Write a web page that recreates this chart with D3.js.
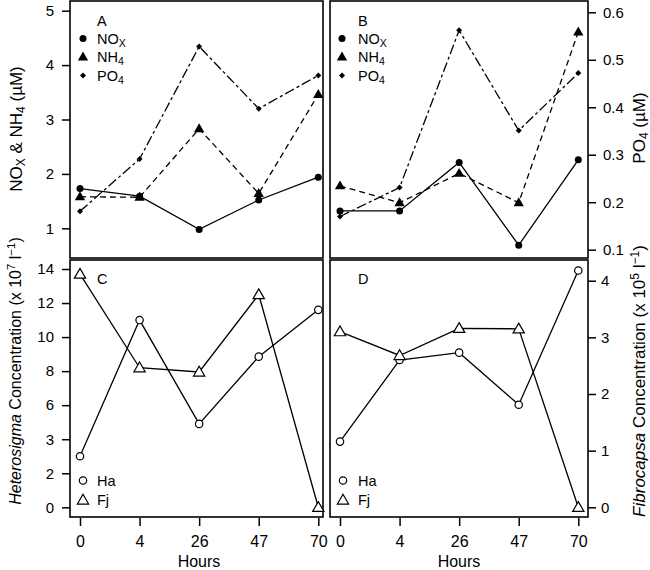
<!DOCTYPE html>
<html><head><meta charset="utf-8">
<script src="https://cdn.jsdelivr.net/npm/d3@7"></script>
<style>
body{margin:0;background:#fff;}
svg{font-family:"Liberation Sans",Arial,sans-serif;}
text{fill:#000;}
</style></head><body>
<svg id="c" width="650" height="570"></svg>
<script>
// ---- data ----
const hours = ["0","4","26","47","70"];
const noxA = [1.73,1.59,0.98,1.52,1.94];
const nh4A = [1.58,1.57,2.83,1.64,3.46];
const po4A = [0.181,0.291,0.528,0.397,0.467];
const noxB = [1.32,1.32,2.21,0.69,2.26];
const nh4B = [1.78,1.47,2.01,1.47,4.61];
const po4B = [0.170,0.231,0.562,0.351,0.472];
const haC = [3.0,11.0,4.9,8.85,11.6];
const fjC = [13.7,8.2,7.95,12.5,0];
const haD = [1.16,2.6,2.73,1.81,4.18];
const fjD = [3.1,2.68,3.16,3.15,0];
const nutTicks = [1,2,3,4,5];
const po4Ticks = [0.1,0.2,0.3,0.4,0.5,0.6];
const hetTicks = [0,2,4,6,8,10,12,14];
const hetTickLabels = ["0","2","3","6","8","10","12","14"];
const fibTicks = [0,1,2,3,4];

const svg = d3.select("#c");
const P = {
  A:{x0:70,x1:323,y0:1,y1:258},
  B:{x0:330,x1:588,y0:1,y1:258},
  C:{x0:70,x1:323,y0:260,y1:517},
  D:{x0:330,x1:588,y0:260,y1:517}
};
const xL = d3.scalePoint().domain(hours).range([80,318.3]);
const xR = d3.scalePoint().domain(hours).range([340,578.3]);
const yNut = d3.scaleLinear().domain([1,5]).range([228.3,10.7]);
const yPO4 = d3.scaleLinear().domain([0.1,0.6]).range([249.7,12.3]);
const yHet = d3.scaleLinear().domain([0,14]).range([507.3,269]);
const yFib = d3.scaleLinear().domain([0,4]).range([507.3,280.7]);

function styleAxis(size){
  return g=>{
    g.selectAll("path.domain").remove();
    g.selectAll(".tick line").attr("stroke","#000").attr("stroke-width",1.5);
    g.selectAll(".tick text").attr("font-size",size).attr("font-family","Liberation Sans, Arial, sans-serif").attr("fill","#000");
  };
}
// axes
svg.append("g").attr("transform","translate(70,0)")
  .call(d3.axisLeft(yNut).tickValues(nutTicks).tickSize(8).tickPadding(8).tickFormat(d3.format("d"))).call(styleAxis(15));
svg.append("g").attr("transform","translate(588,0)")
  .call(d3.axisRight(yPO4).tickValues(po4Ticks).tickSize(8).tickPadding(7).tickFormat(d3.format(".1f"))).call(styleAxis(15));
svg.append("g").attr("transform","translate(70,0)")
  .call(d3.axisLeft(yHet).tickValues(hetTicks).tickSize(8).tickPadding(8).tickFormat((d,i)=>hetTickLabels[i])).call(styleAxis(15));
svg.append("g").attr("transform","translate(588,0)")
  .call(d3.axisRight(yFib).tickValues(fibTicks).tickSize(8).tickPadding(5).tickFormat(d3.format("d"))).call(styleAxis(15));
svg.append("g").attr("transform","translate(0,518)")
  .call(d3.axisBottom(xL).tickSize(8).tickPadding(10)).call(styleAxis(16));
svg.append("g").attr("transform","translate(0,518)")
  .call(d3.axisBottom(xR).tickSize(8).tickPadding(10)).call(styleAxis(16));

// frames
Object.values(P).forEach(p=>{
  svg.append("rect").attr("x",p.x0).attr("y",p.y0).attr("width",p.x1-p.x0).attr("height",p.y1-p.y0)
    .attr("fill","none").attr("stroke","#000").attr("stroke-width",1.6);
});

// markers
function marker(g,type,x,y){
  if(type==="fcircle") g.append("circle").attr("cx",x).attr("cy",y).attr("r",3.5).attr("fill","#000");
  else if(type==="ftri") g.append("path").attr("d",d3.symbol().type(d3.symbolTriangle).size(46)()).attr("transform",`translate(${x},${y+0.5})`).attr("fill","#000");
  else if(type==="fdia") g.append("path").attr("d",d3.symbol().type(d3.symbolSquare).size(18)()).attr("transform",`translate(${x},${y}) rotate(45)`).attr("fill","#000");
  else if(type==="ocircle") g.append("circle").attr("cx",x).attr("cy",y).attr("r",3.7).attr("fill","#fff").attr("stroke","#000").attr("stroke-width",1.2);
  else if(type==="otri") g.append("path").attr("d",d3.symbol().type(d3.symbolTriangle).size(55)()).attr("transform",`translate(${x},${y+0.8})`).attr("fill","#fff").attr("stroke","#000").attr("stroke-width",1.2);
}
function series(x,y,vals,dash,type){
  const g = svg.append("g");
  const line = d3.line().x((d,i)=>x(hours[i])).y(d=>y(d));
  g.append("path").attr("d",line(vals)).attr("fill","none").attr("stroke","#000").attr("stroke-width",1.3)
    .attr("stroke-dasharray",dash);
  vals.forEach((v,i)=>marker(g,type,x(hours[i]),y(v)));
}
const dashNH4 = "6,4", dashPO4 = "10,3,3,3";
series(xL,yNut,noxA,null,"fcircle");
series(xL,yNut,nh4A,dashNH4,"ftri");
series(xL,yPO4,po4A,dashPO4,"fdia");
series(xR,yNut,noxB,null,"fcircle");
series(xR,yNut,nh4B,dashNH4,"ftri");
series(xR,yPO4,po4B,dashPO4,"fdia");
series(xL,yHet,haC,null,"ocircle");
series(xL,yHet,fjC,null,"otri");
series(xR,yFib,haD,null,"ocircle");
series(xR,yFib,fjD,null,"otri");

// legends
const lfs = 14.5;
function sub(t,main,s){
  t.append("tspan").text(main);
  t.append("tspan").attr("font-size",10.5).attr("dy",3).text(s);
}
function nutLegend(mx,tx,label){
  svg.append("text").attr("x",tx).attr("y",26).attr("font-size",lfs).text(label);
  const rows=[["fcircle","NO","X",43.5],["ftri","NH","4",62],["fdia","PO","4",80.5]];
  rows.forEach(r=>{
    marker(svg,r[0],mx,r[3]-5);
    sub(svg.append("text").attr("x",tx).attr("y",r[3]).attr("font-size",lfs),r[1],r[2]);
  });
}
nutLegend(83,97,"A");
nutLegend(342,358,"B");
function algLegend(mx,tx,label){
  svg.append("text").attr("x",tx).attr("y",284).attr("font-size",lfs).text(label);
  marker(svg,"ocircle",mx,480.5);
  svg.append("text").attr("x",tx).attr("y",485.5).attr("font-size",lfs).text("Ha");
  marker(svg,"otri",mx,500);
  svg.append("text").attr("x",tx).attr("y",505).attr("font-size",lfs).text("Fj");
}
algLegend(83,97,"C");
algLegend(343,358,"D");

// axis titles
svg.append("text").attr("x",199).attr("y",566.5).attr("text-anchor","middle").attr("font-size",16).text("Hours");
svg.append("text").attr("x",459).attr("y",566.5).attr("text-anchor","middle").attr("font-size",16).text("Hours");

const t1 = svg.append("text").attr("transform","translate(22,129) rotate(-90)").attr("text-anchor","middle").attr("font-size",17);
t1.append("tspan").text("NO");
t1.append("tspan").attr("font-size",12).attr("dy",3).text("X");
t1.append("tspan").attr("dy",-3).text(" & NH");
t1.append("tspan").attr("font-size",12).attr("dy",3).text("4");
t1.append("tspan").attr("dy",-3).text(" (µM)");

const t2 = svg.append("text").attr("transform","translate(645,128) rotate(-90)").attr("text-anchor","middle").attr("font-size",17);
t2.append("tspan").text("PO");
t2.append("tspan").attr("font-size",12).attr("dy",3).text("4");
t2.append("tspan").attr("dy",-3).text(" (µM)");

const t3 = svg.append("text").attr("transform","translate(21,371) rotate(-90)").attr("text-anchor","middle").attr("font-size",16);
t3.append("tspan").attr("font-style","italic").text("Heterosigma");
t3.append("tspan").text(" Concentration (x 10");
t3.append("tspan").attr("font-size",11.5).attr("dy",-6).text("7");
t3.append("tspan").attr("dy",6).text(" l");
t3.append("tspan").attr("font-size",11.5).attr("dy",-6).text("−1");
t3.append("tspan").attr("dy",6).text(")");

const t4 = svg.append("text").attr("transform","translate(645,381) rotate(-90)").attr("text-anchor","middle").attr("font-size",17);
t4.append("tspan").attr("font-style","italic").text("Fibrocapsa");
t4.append("tspan").text(" Concentration (x 10");
t4.append("tspan").attr("font-size",12).attr("dy",-6).text("5");
t4.append("tspan").attr("dy",6).text(" l");
t4.append("tspan").attr("font-size",12).attr("dy",-6).text("−1");
t4.append("tspan").attr("dy",6).text(")");
</script>
</body></html>
